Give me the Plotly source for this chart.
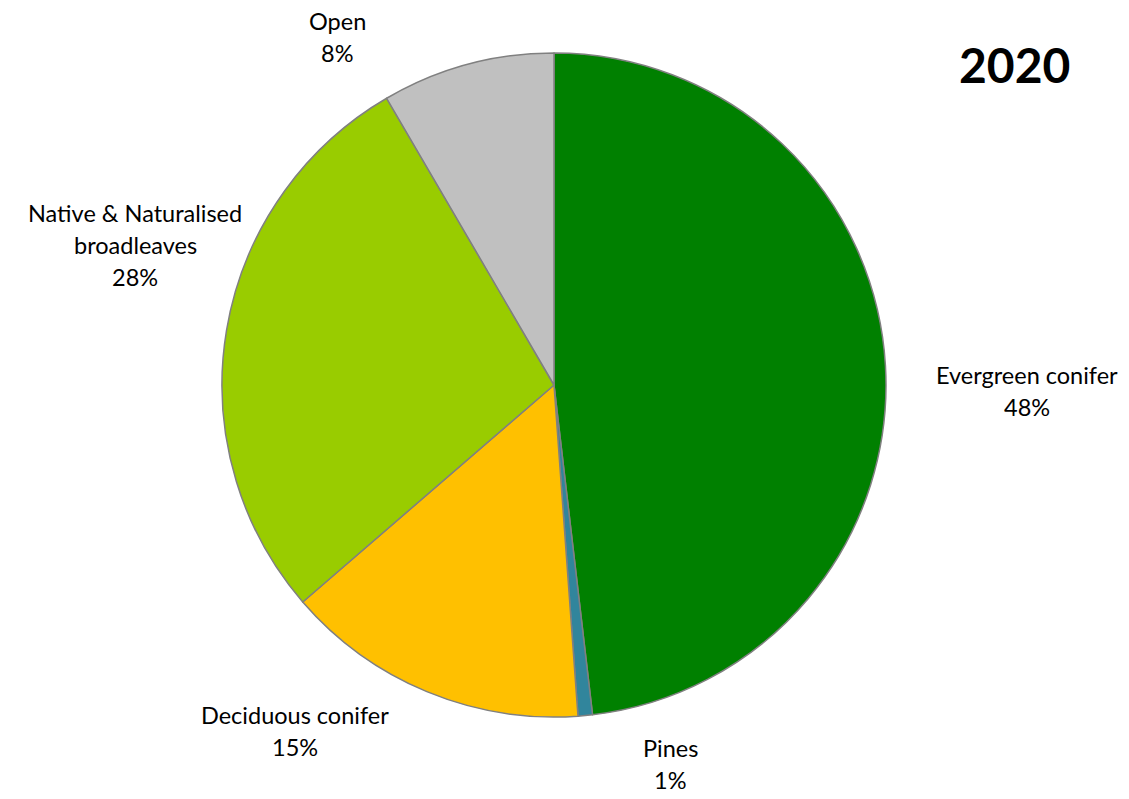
import plotly.graph_objects as go

# Woodland cover by type, 2020 (percent of area)
categories = ["Evergreen conifer", "Pines", "Deciduous conifer",
              "Native & Naturalised broadleaves", "Open"]
shares = [48.1, 0.7, 14.8, 27.9, 8.4]
colors = ["#008000", "#31859C", "#FFC000", "#99CC00", "#C0C0C0"]

# Label text broken into display lines, and where each label block sits (pixels)
label_lines = [["Evergreen conifer"], ["Pines"], ["Deciduous conifer"],
               ["Native & Naturalised", "broadleaves"], ["Open"]]
label_pos = [(1027, 391), (670, 764), (295, 731), (135, 245), (337, 37)]

W, H = 1129, 799
FONT = "Lato"
LINE_PITCH = 32

fig = go.Figure(go.Pie(
    labels=categories,
    values=shares,
    sort=False,
    direction="clockwise",
    rotation=0,
    marker=dict(colors=colors, line=dict(color="#808080", width=1.5)),
    textinfo="none",
    hoverinfo="label+percent",
    domain=dict(x=[222 / W, 886 / W], y=[82 / H, 746 / H]),
    showlegend=False,
))

total = sum(shares)
annotations = []
for lines, (cx, cy), v in zip(label_lines, label_pos, shares):
    rows = lines + [f"{round(100 * v / total):d}%"]
    top = cy - LINE_PITCH * (len(rows) - 1) / 2
    for i, row in enumerate(rows):
        y = top + i * LINE_PITCH
        annotations.append(dict(
            x=cx / W, y=1 - y / H, xref="paper", yref="paper",
            text=row, showarrow=False, xanchor="center", yanchor="middle",
            font=dict(family=FONT, size=23.5, color="#000000"),
        ))

annotations.append(dict(
    x=1014 / W, y=1 - 64 / H, xref="paper", yref="paper",
    text="<b>2020</b>", showarrow=False, xanchor="center", yanchor="middle",
    font=dict(family=FONT, size=48, color="#000000"),
))

fig.update_layout(
    width=W, height=H,
    margin=dict(l=0, r=0, t=0, b=0),
    paper_bgcolor="white",
    plot_bgcolor="white",
    annotations=annotations,
)

fig.write_html("out.html")
